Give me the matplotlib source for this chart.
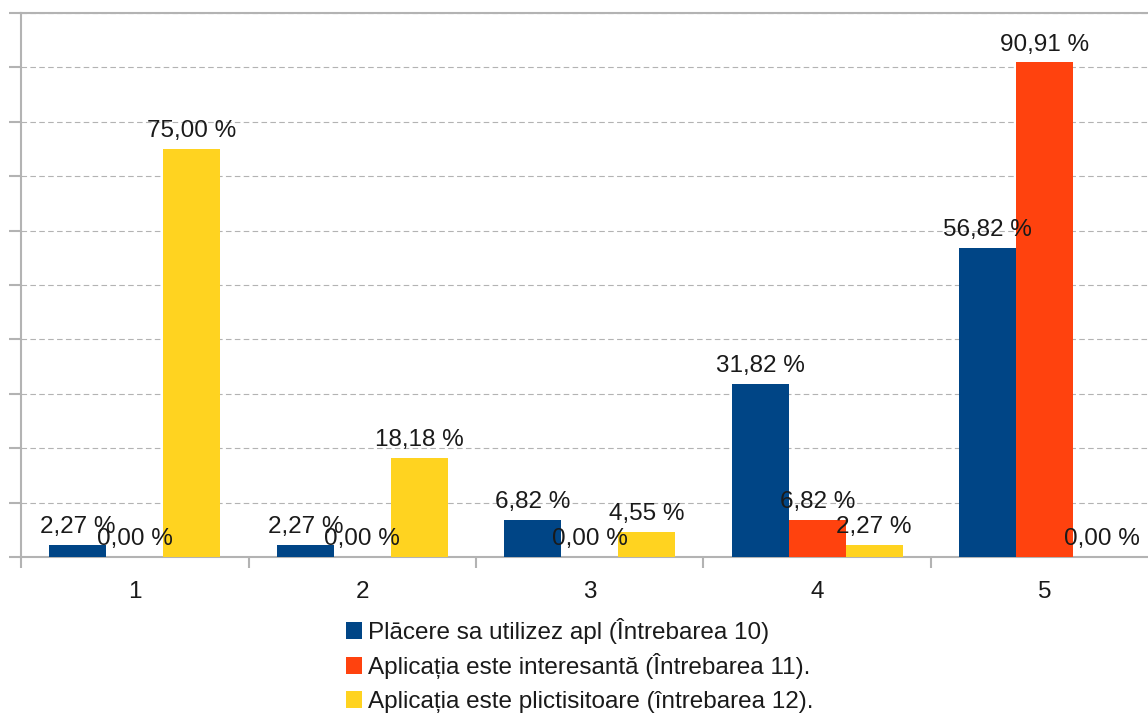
import numpy as np
import matplotlib
matplotlib.use("Agg")
import matplotlib.pyplot as plt
from matplotlib.patches import Patch

plt.rcParams['font.family'] = ['Liberation Sans', 'DejaVu Sans']

# data
categories = ['1', '2', '3', '4', '5']
placere = [2.27, 2.27, 6.82, 31.82, 56.82]
interesanta = [0.00, 0.00, 0.00, 6.82, 90.91]
plictisitoare = [75.00, 18.18, 4.55, 2.27, 0.00]
series_names = ['Plācere sa utilizez apl (Întrebarea 10)',
                'Aplicația este interesantă (Întrebarea 11).',
                'Aplicația este plictisitoare (întrebarea 12).']
colors = ['#004586', '#ff420e', '#ffd320']

GRID = '#b3b3b3'
TXT = '#1a1a1a'
FS = 17.5

fig = plt.figure(figsize=(11.48, 7.17), dpi=100)
# plot area runs past the right edge of the picture, like the source
ax = fig.add_axes([21/1148, (717-557)/717, 1137.5/1148, 544/717])

x = np.arange(len(categories))
w = 0.25
all_series = [placere, interesanta, plictisitoare]
for i, (vals, col) in enumerate(zip(all_series, colors)):
    pos = x + (i - 1) * w
    ax.bar(pos, vals, width=w, color=col, linewidth=0, zorder=3)
    for px, v in zip(pos, vals):
        lbl = f"{v:.2f}".replace('.', ',') + " %"
        ax.annotate(lbl, (px, v), xytext=(0, 5), textcoords='offset points',
                    ha='center', va='bottom', fontsize=FS, color=TXT, zorder=4)

ax.set_xlim(-0.5, len(categories) - 0.5)
ax.set_ylim(0, 100)

ax.set_yticks(np.arange(0, 101, 10))
ax.set_yticklabels([])
ax.yaxis.grid(True, color=GRID, linestyle=(0, (5, 3)), linewidth=0.8, zorder=0)
ax.tick_params(axis='y', length=9, color=GRID, width=1.5)

ax.set_xticks(x)
ax.set_xticklabels(categories, fontsize=FS, color=TXT)
ax.set_xticks(np.arange(-0.5, len(categories)), minor=True)
ax.tick_params(axis='x', which='major', length=0, pad=17)
ax.tick_params(axis='x', which='minor', length=8, color=GRID, width=1.5)

for s in ['left', 'bottom', 'top']:
    ax.spines[s].set_color(GRID)
    ax.spines[s].set_linewidth(1.5)
ax.spines['right'].set_visible(False)

# one legend per row so the rows are evenly spaced
row_y = [631, 666, 702]
for name, col, yc in zip(series_names, colors, row_y):
    fig.legend([Patch(facecolor=col, edgecolor='none')], [name],
               loc='center left', bbox_to_anchor=(346/1148, 1 - yc/717),
               frameon=False, fontsize=FS, handlelength=0.66,
               handleheight=0.66, handletextpad=0.25, borderaxespad=0,
               borderpad=0, labelcolor=TXT)

fig.savefig('out.png', dpi=100)
